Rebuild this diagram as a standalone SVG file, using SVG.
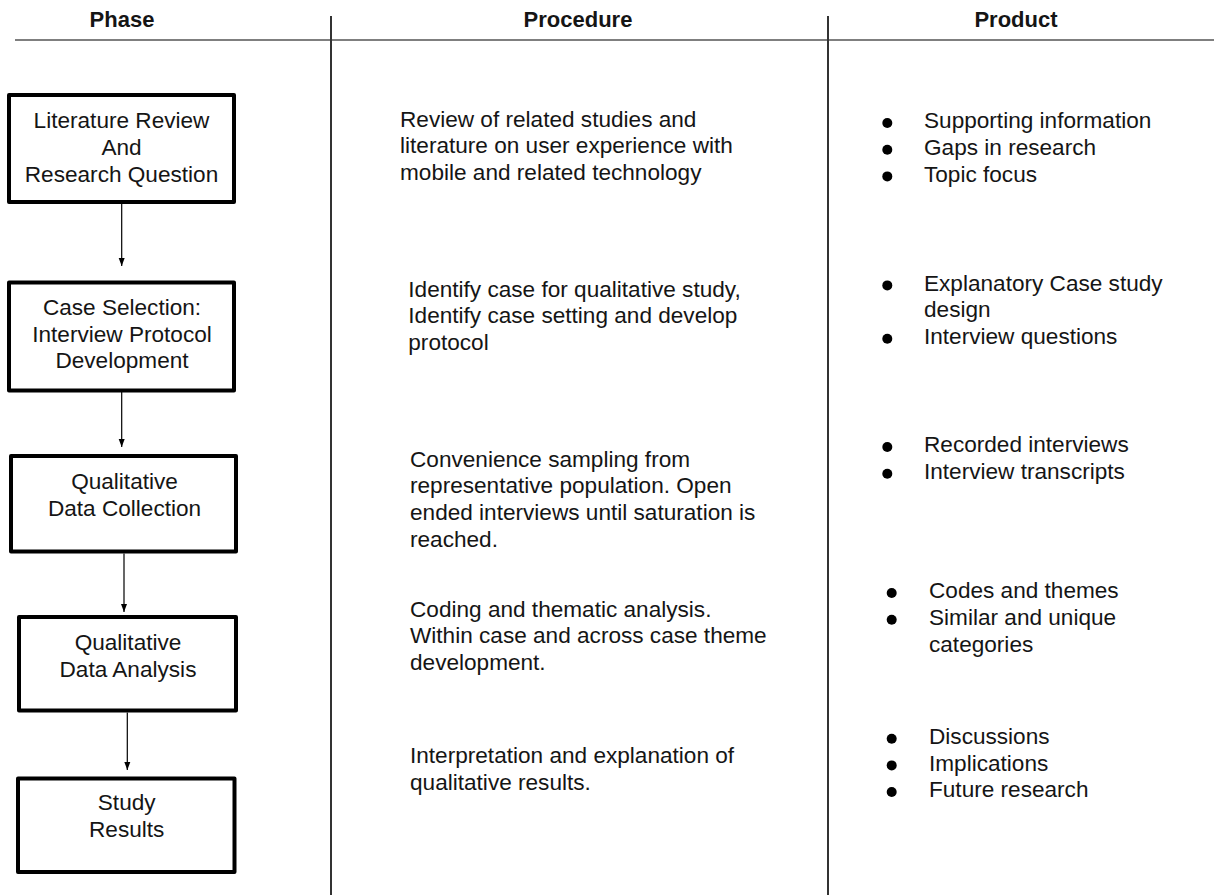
<svg xmlns="http://www.w3.org/2000/svg" width="1214" height="895" viewBox="0 0 1214 895">
<style>
text{font-family:"Liberation Sans",Arial,sans-serif;font-size:22.6px;fill:#151515}
.h{font-weight:bold;text-anchor:middle;font-size:22px}
.c{text-anchor:middle}
.box{fill:#fff;stroke:#000;stroke-width:4;stroke-linejoin:round}
.rule{stroke:#333;stroke-width:2;fill:none}
.conn{stroke:#000;stroke-width:1.2;fill:none;marker-end:url(#ah)}
.dot{fill:#000}
</style>
<defs>
<marker id="ah" viewBox="0 0 8 8" refX="8" refY="4" markerWidth="8" markerHeight="8" markerUnits="userSpaceOnUse" orient="auto">
<path d="M0,1 L8,4 L0,7 Z" fill="#000"/>
</marker>
</defs>
<rect width="1214" height="895" fill="#fff"/>
<g id="grid">
<line class="rule" x1="15" y1="40" x2="1214" y2="40" style="stroke:#555;stroke-width:1.5"/>
<line class="rule" x1="331" y1="16" x2="331" y2="895"/>
<line class="rule" x1="828" y1="16" x2="828" y2="895"/>
<text class="h" x="122" y="27">Phase</text>
<text class="h" x="578" y="27">Procedure</text>
<text class="h" x="1016" y="27">Product</text>
</g>
<g id="connectors">
<line class="conn" x1="121.7" y1="204" x2="121.7" y2="266"/>
<line class="conn" x1="121.7" y1="392" x2="121.7" y2="447"/>
<line class="conn" x1="124" y1="553.5" x2="124" y2="612"/>
<line class="conn" x1="127.3" y1="712.5" x2="127.3" y2="770"/>
</g>
<g id="phase1">
<rect class="box" x="9" y="95" width="225" height="107"/>
<text class="c" x="121.5" y="128">Literature Review</text>
<text class="c" x="121.5" y="155">And</text>
<text class="c" x="121.5" y="182">Research Question</text>
</g>
<g id="phase2">
<rect class="box" x="9" y="282.5" width="225" height="108"/>
<text class="c" x="122" y="315">Case Selection:</text>
<text class="c" x="122" y="341.7">Interview Protocol</text>
<text class="c" x="122" y="368.3">Development</text>
</g>
<g id="phase3">
<rect class="box" x="11" y="456" width="225" height="95.5"/>
<text class="c" x="124.5" y="489.3">Qualitative</text>
<text class="c" x="124.5" y="516">Data Collection</text>
</g>
<g id="phase4">
<rect class="box" x="19" y="617" width="217" height="93.5"/>
<text class="c" x="128" y="650">Qualitative</text>
<text class="c" x="128" y="676.7">Data Analysis</text>
</g>
<g id="phase5">
<rect class="box" x="18" y="778.5" width="216.5" height="93.5"/>
<text class="c" x="126.7" y="810">Study</text>
<text class="c" x="126.7" y="836.7">Results</text>
</g>
<g id="procedure1">
<text x="400" y="126.7">Review of related studies and</text>
<text x="400" y="153.3">literature on user experience with</text>
<text x="400" y="180">mobile and related technology</text>
</g>
<g id="procedure2">
<text x="408.3" y="296.7">Identify case for qualitative study,</text>
<text x="408.3" y="323.3">Identify case setting and develop</text>
<text x="408.3" y="350">protocol</text>
</g>
<g id="procedure3">
<text x="410" y="466.7">Convenience sampling from</text>
<text x="410" y="493.3">representative population. Open</text>
<text x="410" y="520">ended interviews until saturation is</text>
<text x="410" y="546.7">reached.</text>
</g>
<g id="procedure4">
<text x="410" y="616.7">Coding and thematic analysis.</text>
<text x="410" y="643.3">Within case and across case theme</text>
<text x="410" y="670">development.</text>
</g>
<g id="procedure5">
<text x="410" y="763.3">Interpretation and explanation of</text>
<text x="410" y="790">qualitative results.</text>
</g>
<g id="product1">
<circle class="dot" cx="887.3" cy="123" r="5"/>
<circle class="dot" cx="887.3" cy="149.7" r="5"/>
<circle class="dot" cx="887.3" cy="176.4" r="5"/>
<text x="924" y="128.3">Supporting information</text>
<text x="924" y="155">Gaps in research</text>
<text x="924" y="181.7">Topic focus</text>
</g>
<g id="product2">
<circle class="dot" cx="887.3" cy="285.4" r="5"/>
<circle class="dot" cx="887.3" cy="338.7" r="5"/>
<text x="924" y="290.7">Explanatory Case study</text>
<text x="924" y="317.3">design</text>
<text x="924" y="344">Interview questions</text>
</g>
<g id="product3">
<circle class="dot" cx="887.3" cy="447" r="5"/>
<circle class="dot" cx="887.3" cy="473.7" r="5"/>
<text x="924" y="452.3">Recorded interviews</text>
<text x="924" y="479">Interview transcripts</text>
</g>
<g id="product4">
<circle class="dot" cx="891.7" cy="593" r="5"/>
<circle class="dot" cx="891.7" cy="619.7" r="5"/>
<text x="929" y="598.3">Codes and themes</text>
<text x="929" y="625">Similar and unique</text>
<text x="929" y="651.7">categories</text>
</g>
<g id="product5">
<circle class="dot" cx="891.7" cy="738.7" r="5"/>
<circle class="dot" cx="891.7" cy="765.4" r="5"/>
<circle class="dot" cx="891.7" cy="792" r="5"/>
<text x="929" y="744">Discussions</text>
<text x="929" y="770.7">Implications</text>
<text x="929" y="797.3">Future research</text>
</g>
</svg>
